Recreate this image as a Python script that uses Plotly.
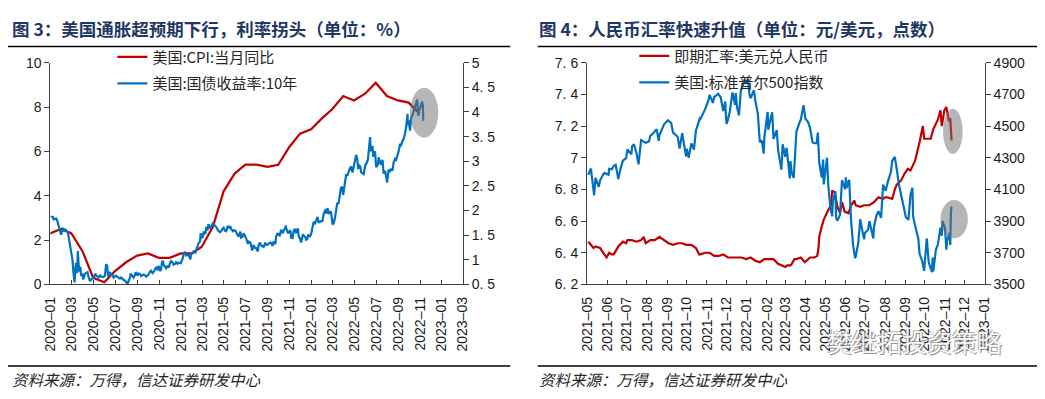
import plotly.graph_objects as go

# ---------------- data: left chart (US CPI YoY, US 10Y yield) ----------------
cpi_dates = ["2019-12-31","2020-01-31","2020-02-29","2020-03-31","2020-04-30","2020-05-31","2020-06-30",
             "2020-07-31","2020-08-31","2020-09-30","2020-10-31","2020-11-30","2020-12-31",
             "2021-01-31","2021-02-28","2021-03-31","2021-04-30","2021-05-31","2021-06-30",
             "2021-07-31","2021-08-31","2021-09-30","2021-10-31","2021-11-30","2021-12-31",
             "2022-01-31","2022-02-28","2022-03-31","2022-04-30","2022-05-31","2022-06-30",
             "2022-07-31","2022-08-31","2022-09-30","2022-10-31"]
cpi_vals = [2.3,2.5,2.3,1.5,0.3,0.1,0.6,1.0,1.3,1.4,1.2,1.2,1.4,
            1.4,1.7,2.6,4.2,5.0,5.4,5.4,5.3,5.4,6.2,6.8,7.0,
            7.5,7.9,8.5,8.3,8.6,9.1,8.5,8.3,8.2,7.7]

ust_raw = """2020-01-02 1.88,2020-01-08 1.87,2020-01-10 1.82,2020-01-17 1.84,2020-01-21 1.78,2020-01-24 1.68,
2020-01-27 1.61,2020-01-31 1.51,2020-02-05 1.65,2020-02-07 1.58,2020-02-12 1.63,2020-02-14 1.59,2020-02-19 1.56,
2020-02-21 1.46,2020-02-25 1.33,2020-02-28 1.13,2020-03-03 1.00,2020-03-06 0.71,2020-03-09 0.54,2020-03-11 0.82,
2020-03-13 0.94,2020-03-16 0.73,2020-03-18 1.18,2020-03-20 0.92,2020-03-23 0.76,2020-03-25 0.86,2020-03-27 0.68,
2020-03-31 0.70,2020-04-02 0.60,2020-04-07 0.72,2020-04-09 0.73,2020-04-14 0.75,2020-04-17 0.65,2020-04-21 0.57,
2020-04-24 0.60,2020-04-29 0.63,2020-05-01 0.64,2020-05-06 0.72,2020-05-08 0.68,2020-05-13 0.66,2020-05-15 0.64,
2020-05-20 0.68,2020-05-22 0.66,2020-05-29 0.65,2020-06-02 0.68,2020-06-05 0.91,2020-06-08 0.88,2020-06-11 0.66,
2020-06-12 0.71,2020-06-16 0.75,2020-06-19 0.70,2020-06-24 0.68,2020-06-26 0.64,2020-07-02 0.68,2020-07-08 0.66,
2020-07-10 0.64,2020-07-14 0.62,2020-07-17 0.64,2020-07-22 0.61,2020-07-24 0.59,2020-07-28 0.58,2020-07-31 0.55,
2020-08-04 0.51,2020-08-07 0.57,2020-08-11 0.64,2020-08-13 0.72,2020-08-14 0.71,2020-08-18 0.68,2020-08-21 0.64,
2020-08-25 0.69,2020-08-27 0.75,2020-08-28 0.74,2020-09-01 0.68,2020-09-04 0.72,2020-09-09 0.70,2020-09-11 0.67,
2020-09-16 0.69,2020-09-18 0.70,2020-09-23 0.68,2020-09-25 0.66,2020-09-30 0.69,2020-10-02 0.70,2020-10-06 0.76,
2020-10-09 0.78,2020-10-13 0.73,2020-10-16 0.75,2020-10-21 0.82,2020-10-23 0.84,2020-10-28 0.79,2020-10-30 0.88,
2020-11-04 0.77,2020-11-06 0.82,2020-11-09 0.96,2020-11-11 0.98,2020-11-13 0.90,2020-11-18 0.86,2020-11-20 0.83,
2020-11-24 0.88,2020-11-27 0.84,2020-12-01 0.93,2020-12-04 0.97,2020-12-09 0.94,2020-12-11 0.90,2020-12-16 0.92,
2020-12-18 0.95,2020-12-22 0.92,2020-12-24 0.94,2020-12-31 0.93,2021-01-06 1.04,2021-01-08 1.13,2021-01-12 1.15,
2021-01-15 1.09,2021-01-20 1.10,2021-01-22 1.10,2021-01-27 1.01,2021-01-29 1.11,2021-02-03 1.14,2021-02-05 1.17,
2021-02-10 1.15,2021-02-12 1.20,2021-02-16 1.30,2021-02-19 1.34,2021-02-23 1.37,2021-02-25 1.54,2021-02-26 1.44,
2021-03-03 1.47,2021-03-05 1.57,2021-03-10 1.52,2021-03-12 1.64,2021-03-16 1.62,2021-03-18 1.71,2021-03-19 1.72,
2021-03-23 1.63,2021-03-26 1.68,2021-03-30 1.73,2021-03-31 1.74,2021-04-05 1.70,2021-04-07 1.67,2021-04-09 1.67,
2021-04-13 1.62,2021-04-15 1.58,2021-04-16 1.59,2021-04-20 1.56,2021-04-23 1.58,2021-04-27 1.63,2021-04-30 1.65,
2021-05-04 1.59,2021-05-07 1.58,2021-05-12 1.69,2021-05-14 1.64,2021-05-19 1.68,2021-05-21 1.63,2021-05-26 1.58,
2021-05-28 1.60,2021-06-02 1.59,2021-06-04 1.56,2021-06-09 1.49,2021-06-11 1.47,2021-06-16 1.57,2021-06-18 1.45,
2021-06-22 1.47,2021-06-25 1.54,2021-06-30 1.47,2021-07-02 1.44,2021-07-07 1.32,2021-07-09 1.37,2021-07-14 1.35,
2021-07-16 1.30,2021-07-19 1.19,2021-07-23 1.30,2021-07-27 1.24,2021-07-30 1.24,2021-08-03 1.18,2021-08-04 1.17,
2021-08-06 1.30,2021-08-10 1.35,2021-08-13 1.29,2021-08-18 1.27,2021-08-20 1.26,2021-08-25 1.35,2021-08-27 1.31,
2021-09-01 1.31,2021-09-03 1.33,2021-09-08 1.35,2021-09-10 1.34,2021-09-14 1.28,2021-09-17 1.37,2021-09-22 1.32,
2021-09-24 1.47,2021-09-28 1.54,2021-09-30 1.52,2021-10-04 1.48,2021-10-08 1.61,2021-10-13 1.54,2021-10-15 1.59,
2021-10-20 1.65,2021-10-21 1.70,2021-10-22 1.65,2021-10-27 1.54,2021-10-29 1.56,2021-11-03 1.60,2021-11-05 1.45,
2021-11-09 1.44,2021-11-12 1.58,2021-11-16 1.63,2021-11-19 1.54,2021-11-24 1.64,2021-11-26 1.48,2021-11-30 1.43,
2021-12-03 1.35,2021-12-08 1.52,2021-12-10 1.49,2021-12-15 1.46,2021-12-17 1.41,2021-12-20 1.42,2021-12-23 1.50,
2021-12-28 1.48,2021-12-31 1.52,2022-01-04 1.66,2022-01-07 1.77,2022-01-11 1.74,2022-01-14 1.79,2022-01-18 1.87,
2022-01-21 1.75,2022-01-25 1.78,2022-01-28 1.78,2022-02-01 1.79,2022-02-04 1.93,2022-02-10 2.03,2022-02-11 1.94,
2022-02-15 2.05,2022-02-18 1.93,2022-02-23 1.99,2022-02-24 1.96,2022-02-25 1.97,2022-03-01 1.72,2022-03-04 1.74,
2022-03-08 1.86,2022-03-11 2.00,2022-03-14 2.14,2022-03-18 2.15,2022-03-22 2.38,2022-03-25 2.48,2022-03-28 2.46,
2022-03-31 2.32,2022-04-01 2.39,2022-04-05 2.55,2022-04-08 2.72,2022-04-12 2.72,2022-04-18 2.85,2022-04-20 2.84,
2022-04-22 2.90,2022-04-26 2.77,2022-04-29 2.89,2022-05-03 2.97,2022-05-06 3.13,2022-05-09 3.05,2022-05-12 2.84,
2022-05-13 2.93,2022-05-18 2.89,2022-05-20 2.78,2022-05-26 2.75,2022-05-27 2.74,2022-06-01 2.93,2022-06-03 2.94,
2022-06-08 3.03,2022-06-10 3.15,2022-06-14 3.49,2022-06-16 3.20,2022-06-17 3.25,2022-06-21 3.31,2022-06-23 3.09,
2022-06-24 3.13,2022-06-28 3.20,2022-07-01 2.88,2022-07-06 2.93,2022-07-08 3.08,2022-07-13 2.96,2022-07-15 2.93,
2022-07-19 3.03,2022-07-22 2.75,2022-07-26 2.81,2022-07-29 2.65,2022-08-01 2.57,2022-08-05 2.83,2022-08-09 2.80,
2022-08-12 2.85,2022-08-16 2.81,2022-08-19 2.98,2022-08-23 3.05,2022-08-26 3.03,2022-08-30 3.11,2022-09-02 3.20,
2022-09-06 3.35,2022-09-09 3.33,2022-09-13 3.42,2022-09-16 3.45,2022-09-20 3.57,2022-09-23 3.69,2022-09-27 3.96,
2022-09-28 3.73,2022-09-30 3.83,2022-10-04 3.62,2022-10-07 3.89,2022-10-11 3.94,2022-10-14 4.01,2022-10-19 4.13,
2022-10-21 4.21,2022-10-24 4.25,2022-10-27 3.92,2022-10-28 4.01,2022-11-02 4.10,2022-11-04 4.17,2022-11-07 4.21,
2022-11-09 4.12,2022-11-10 3.82"""
ust_dates = [p.split()[0] for p in ust_raw.replace("\n", "").split(",")]
ust_vals = [float(p.split()[1]) for p in ust_raw.replace("\n", "").split(",")]

# ---------------- data: right chart (USD/CNY spot, S&P 500) ----------------
cny_raw = """2021-05-03 6.47,2021-05-07 6.45,2021-05-11 6.43,2021-05-14 6.44,2021-05-21 6.43,2021-05-26 6.40,
2021-05-31 6.37,2021-06-04 6.40,2021-06-08 6.39,2021-06-11 6.39,2021-06-18 6.44,2021-06-25 6.47,2021-06-30 6.46,
2021-07-02 6.48,2021-07-09 6.48,2021-07-16 6.47,2021-07-23 6.48,2021-07-27 6.50,2021-07-30 6.46,2021-08-06 6.48,
2021-08-13 6.48,2021-08-20 6.50,2021-08-27 6.48,2021-09-03 6.46,2021-09-10 6.45,2021-09-17 6.46,2021-09-24 6.46,
2021-09-30 6.45,2021-10-08 6.45,2021-10-15 6.43,2021-10-20 6.39,2021-10-22 6.39,2021-10-29 6.40,2021-11-05 6.40,
2021-11-12 6.38,2021-11-19 6.38,2021-11-26 6.39,2021-12-03 6.37,2021-12-10 6.37,2021-12-17 6.37,2021-12-24 6.37,
2021-12-31 6.36,2022-01-07 6.37,2022-01-14 6.35,2022-01-21 6.34,2022-01-28 6.36,2022-02-07 6.36,2022-02-11 6.36,
2022-02-18 6.33,2022-02-25 6.32,2022-03-01 6.31,2022-03-04 6.32,2022-03-09 6.32,2022-03-11 6.33,2022-03-15 6.36,
2022-03-18 6.36,2022-03-25 6.37,2022-03-31 6.34,2022-04-08 6.37,2022-04-15 6.37,2022-04-19 6.38,2022-04-21 6.43,
2022-04-22 6.50,2022-04-25 6.55,2022-04-27 6.58,2022-04-29 6.61,2022-05-06 6.67,2022-05-10 6.70,2022-05-12 6.79,
2022-05-13 6.79,2022-05-16 6.78,2022-05-20 6.69,2022-05-24 6.65,2022-05-27 6.72,2022-05-31 6.66,2022-06-06 6.65,
2022-06-10 6.70,2022-06-15 6.73,2022-06-17 6.70,2022-06-24 6.69,2022-06-30 6.70,2022-07-05 6.70,2022-07-08 6.70,
2022-07-15 6.72,2022-07-22 6.75,2022-07-29 6.74,2022-08-01 6.75,2022-08-05 6.75,2022-08-12 6.74,2022-08-16 6.80,
2022-08-19 6.83,2022-08-24 6.85,2022-08-26 6.86,2022-08-31 6.90,2022-09-05 6.93,2022-09-09 6.92,2022-09-15 6.97,
2022-09-16 6.98,2022-09-23 7.10,2022-09-28 7.20,2022-09-30 7.12,2022-10-10 7.12,2022-10-14 7.18,2022-10-21 7.24,
2022-10-25 7.30,2022-10-27 7.20,2022-10-31 7.30,2022-11-03 7.32,2022-11-07 7.23,2022-11-09 7.25,2022-11-10 7.18,
2022-11-11 7.11"""
cny_dates = [p.split()[0] for p in cny_raw.replace("\n", "").split(",")]
cny_vals = [float(p.split()[1]) for p in cny_raw.replace("\n", "").split(",")]

spx_raw = """2021-05-03 4192,2021-05-07 4232,2021-05-12 4063,2021-05-14 4173,2021-05-19 4116,2021-05-21 4156,
2021-05-26 4196,2021-05-28 4204,2021-06-03 4192,2021-06-04 4230,2021-06-08 4227,2021-06-11 4247,2021-06-14 4255,
2021-06-18 4166,2021-06-21 4224,2021-06-25 4281,2021-06-30 4298,2021-07-02 4352,2021-07-08 4321,2021-07-09 4370,
2021-07-12 4385,2021-07-16 4327,2021-07-19 4258,2021-07-23 4412,2021-07-27 4402,2021-07-30 4395,2021-08-04 4403,
2021-08-06 4437,2021-08-12 4460,2021-08-13 4468,2021-08-16 4479,2021-08-19 4406,2021-08-20 4442,2021-08-24 4486,
2021-08-27 4509,2021-09-02 4537,2021-09-07 4520,2021-09-10 4459,2021-09-14 4443,2021-09-17 4433,2021-09-20 4358,
2021-09-24 4455,2021-09-28 4353,2021-09-30 4308,2021-10-01 4357,2021-10-04 4300,2021-10-08 4391,2021-10-12 4351,
2021-10-15 4471,2021-10-21 4549,2021-10-22 4545,2021-10-26 4575,2021-10-29 4605,2021-11-03 4660,2021-11-05 4697,
2021-11-10 4646,2021-11-12 4683,2021-11-18 4704,2021-11-19 4698,2021-11-22 4682,2021-11-26 4595,2021-11-29 4655,
2021-11-30 4567,2021-12-01 4513,2021-12-03 4538,2021-12-06 4592,2021-12-10 4712,2021-12-14 4634,2021-12-15 4709,
2021-12-17 4620,2021-12-20 4568,2021-12-23 4726,2021-12-29 4793,2021-12-31 4766,2022-01-03 4797,2022-01-05 4701,
2022-01-07 4677,2022-01-12 4726,2022-01-14 4663,2022-01-18 4577,2022-01-21 4398,2022-01-24 4410,2022-01-27 4326,
2022-01-28 4432,2022-02-02 4589,2022-02-03 4477,2022-02-04 4500,2022-02-09 4587,2022-02-11 4419,2022-02-16 4475,
2022-02-18 4349,2022-02-23 4225,2022-02-24 4288,2022-02-25 4385,2022-03-01 4306,2022-03-03 4363,2022-03-04 4329,
2022-03-08 4170,2022-03-09 4278,2022-03-11 4204,2022-03-14 4173,2022-03-16 4357,2022-03-18 4463,2022-03-22 4512,
2022-03-25 4543,2022-03-29 4632,2022-04-01 4546,2022-04-05 4525,2022-04-08 4488,2022-04-12 4397,2022-04-14 4393,
2022-04-18 4391,2022-04-20 4459,2022-04-22 4272,2022-04-26 4175,2022-04-28 4288,2022-04-29 4132,2022-05-04 4300,
2022-05-06 4123,2022-05-09 3991,2022-05-12 3930,2022-05-13 4024,2022-05-17 4089,2022-05-18 3923,2022-05-20 3901,
2022-05-24 3941,2022-05-27 4158,2022-06-01 4101,2022-06-02 4177,2022-06-03 4109,2022-06-07 4161,2022-06-10 3901,
2022-06-13 3750,2022-06-16 3667,2022-06-17 3675,2022-06-21 3765,2022-06-24 3912,2022-06-28 3821,2022-06-30 3785,
2022-07-01 3825,2022-07-06 3845,2022-07-08 3899,2022-07-14 3790,2022-07-15 3863,2022-07-19 3937,2022-07-22 3962,
2022-07-26 3921,2022-07-29 4130,2022-08-02 4091,2022-08-05 4145,2022-08-10 4210,2022-08-12 4280,2022-08-16 4305,
2022-08-19 4228,2022-08-22 4138,2022-08-26 4058,2022-08-30 3986,2022-09-02 3924,2022-09-06 3909,2022-09-09 4067,
2022-09-12 4110,2022-09-13 3932,2022-09-16 3873,2022-09-21 3790,2022-09-23 3693,2022-09-27 3647,2022-09-30 3586,
2022-10-04 3791,2022-10-07 3640,2022-10-12 3577,2022-10-13 3670,2022-10-14 3583,2022-10-18 3720,2022-10-21 3752,
2022-10-25 3859,2022-10-27 3807,2022-10-28 3901,2022-11-01 3856,2022-11-03 3720,2022-11-04 3771,2022-11-08 3828,
2022-11-09 3749,2022-11-10 3956,2022-11-11 3993"""
spx_dates = [p.split()[0] for p in spx_raw.replace("\n", "").split(",")]
spx_vals = [float(p.split()[1]) for p in spx_raw.replace("\n", "").split(",")]

# ---------------- tick labels ----------------
left_x_tickvals = ["2020-01-01","2020-03-01","2020-05-01","2020-07-01","2020-09-01","2020-11-01",
                   "2021-01-01","2021-03-01","2021-05-01","2021-07-01","2021-09-01","2021-11-01",
                   "2022-01-01","2022-03-01","2022-05-01","2022-07-01","2022-09-01","2022-11-01",
                   "2023-01-01","2023-03-01"]
left_x_ticktext = [d[:4] + "–" + d[5:7] for d in left_x_tickvals]
left_y1_ticks = [0, 2, 4, 6, 8, 10]
left_y2_ticks = [0.5, 1, 1.5, 2, 2.5, 3, 3.5, 4, 4.5, 5]
left_y2_text = ["0. 5", "1", "1. 5", "2", "2. 5", "3", "3. 5", "4", "4. 5", "5"]

right_x_tickvals = ["2021-05-01","2021-06-01","2021-07-01","2021-08-01","2021-09-01","2021-10-01",
                    "2021-11-01","2021-12-01","2022-01-01","2022-02-01","2022-03-01","2022-04-01",
                    "2022-05-01","2022-06-01","2022-07-01","2022-08-01","2022-09-01","2022-10-01",
                    "2022-11-01","2022-12-01","2023-01-01"]
right_x_ticktext = [d[:4] + "–" + d[5:7] for d in right_x_tickvals]
right_y1_ticks = [6.2, 6.4, 6.6, 6.8, 7.0, 7.2, 7.4, 7.6]
right_y1_text = ["6. 2", "6. 4", "6. 6", "6. 8", "7", "7. 2", "7. 4", "7. 6"]
right_y2_ticks = [3500, 3700, 3900, 4100, 4300, 4500, 4700, 4900]

# highlight ellipses (data coordinates)
hl_left = dict(x0="2022-10-04", x1="2022-12-22", y0=6.62, y1=8.87)
hl_right_top = dict(x0="2022-10-29", x1="2022-11-28", y0=7.024, y1=7.309)
hl_right_bot = dict(x0="2022-10-25", x1="2022-12-06", y0=6.491, y1=6.733)

# ---------------- styling ----------------
W, H = 1045, 399
RED = "#C00000"
BLUE = "#0070C0"
AX = "#404040"
TICKFONT = dict(family="Liberation Sans, Arial, sans-serif", size=14, color="#1a1a1a")
XTICKFONT = dict(family="Liberation Sans, Arial, sans-serif", size=14, color="#1a1a1a")
CJK = "Noto Sans CJK SC, sans-serif"

def px_x(p):
    return p / W

def px_y(p):
    return 1 - p / H

L_DOM = [px_x(43), px_x(462)]
R_DOM = [px_x(588), px_x(992)]
Y_DOM = [px_y(288), px_y(57)]

fig = go.Figure()
fig.add_trace(go.Scatter(x=cpi_dates, y=cpi_vals, mode="lines", name="美国:CPI:当月同比",
                         line=dict(color=RED, width=2.2), xaxis="x", yaxis="y", legend="legend"))
fig.add_trace(go.Scatter(x=ust_dates, y=ust_vals, mode="lines", name="美国:国债收益率:10年",
                         line=dict(color=BLUE, width=2.2), xaxis="x", yaxis="y2", legend="legend"))
fig.add_trace(go.Scatter(x=cny_dates, y=cny_vals, mode="lines", name="即期汇率:美元兑人民币",
                         line=dict(color=RED, width=2.2), xaxis="x2", yaxis="y3", legend="legend2"))
fig.add_trace(go.Scatter(x=spx_dates, y=spx_vals, mode="lines", name="美国:标准普尔500指数",
                         line=dict(color=BLUE, width=2.2), xaxis="x2", yaxis="y4", legend="legend2"))

xcommon = dict(type="date", showgrid=False, zeroline=False, showline=True, linecolor=AX, linewidth=1,
               ticks="inside", ticklen=4, tickcolor=AX, tickangle=-90, tickfont=XTICKFONT,
               ticklabelstandoff=6)
ycommon = dict(showgrid=False, zeroline=False, showline=True, linecolor=AX, linewidth=1,
               ticks="outside", ticklen=5, tickcolor=AX, tickfont=TICKFONT)

fig.update_layout(
    width=W, height=H, autosize=False,
    margin=dict(l=0, r=0, t=0, b=0),
    paper_bgcolor="white", plot_bgcolor="white",
    showlegend=True,
    xaxis=dict(domain=L_DOM, anchor="y", range=["2020-01-01", "2023-03-01"],
               tickmode="array", tickvals=left_x_tickvals, ticktext=left_x_ticktext, **xcommon),
    yaxis=dict(domain=Y_DOM, anchor="x", range=[0, 10], tickmode="array", tickvals=left_y1_ticks,
               side="left", **ycommon),
    yaxis2=dict(overlaying="y", anchor="x", side="right", range=[0.5, 5], tickmode="array",
                tickvals=left_y2_ticks, ticktext=left_y2_text, **ycommon),
    xaxis2=dict(domain=R_DOM, anchor="y3", range=["2021-05-01", "2023-01-01"],
                tickmode="array", tickvals=right_x_tickvals, ticktext=right_x_ticktext, **xcommon),
    yaxis3=dict(domain=Y_DOM, anchor="x2", range=[6.2, 7.6], tickmode="array", tickvals=right_y1_ticks,
                ticktext=right_y1_text, side="left", **ycommon),
    yaxis4=dict(overlaying="y3", anchor="x2", side="right", range=[3500, 4900], tickmode="array",
                tickvals=right_y2_ticks, **ycommon),
    legend=dict(x=px_x(106), y=px_y(34), xanchor="left", yanchor="top", bgcolor="rgba(0,0,0,0)",
                font=dict(family=CJK, size=15, color="#262626"), tracegroupgap=4, itemwidth=30),
    legend2=dict(x=px_x(636), y=px_y(33), xanchor="left", yanchor="top", bgcolor="rgba(0,0,0,0)",
                 font=dict(family=CJK, size=15, color="#262626"), tracegroupgap=4, itemwidth=30),
)
# separate legend groups so that tracegroupgap spaces the rows
for i, tr in enumerate(fig.data):
    tr.legendgroup = f"g{i}"

# highlight ellipses, semi-transparent, drawn over lines
ell_style = dict(type="circle", fillcolor="rgb(110,110,110)", opacity=0.5, line=dict(width=0), layer="above")
fig.add_shape(xref="x", yref="y", **hl_left, **ell_style)
fig.add_shape(xref="x2", yref="y3", **hl_right_top, **ell_style)
fig.add_shape(xref="x2", yref="y3", **hl_right_bot, **ell_style)

# title rules and source rules
for x0, x1 in [(0, 510), (538, W)]:
    fig.add_shape(type="line", xref="paper", yref="paper", x0=px_x(x0), x1=px_x(x1),
                  y0=px_y(40), y1=px_y(40), line=dict(color="black", width=1.5))
    fig.add_shape(type="line", xref="paper", yref="paper", x0=px_x(x0), x1=px_x(x1),
                  y0=px_y(373), y1=px_y(373), line=dict(color="black", width=1.5))

titles = [("图 3：美国通胀超预期下行，利率拐头（单位：%）", 2),
          ("图 4：人民币汇率快速升值（单位：元/美元，点数）", 537)]
for txt, x in titles:
    fig.add_annotation(text=f"<b>{txt}</b>", xref="paper", yref="paper", x=px_x(x), y=px_y(21),
                       xanchor="left", yanchor="middle", showarrow=False,
                       font=dict(family=CJK, size=17.5, color="#1f3864"))

for x in (2, 537):
    fig.add_annotation(text="<i>资料来源：万得，信达证券研发中心</i>", xref="paper", yref="paper",
                       x=px_x(x), y=px_y(386), xanchor="left", yanchor="middle", showarrow=False,
                       font=dict(family=CJK, size=15.5, color="#262626"))

# watermark (outlined light text)
for dx, dy, col in [(1, 1, "rgba(120,120,120,0.8)"), (-1, -1, "rgba(120,120,120,0.6)"), (0, 0, "rgba(255,255,255,0.95)")]:
    fig.add_annotation(text="樊继拓投资策略", xref="paper", yref="paper", x=px_x(921 + dx), y=px_y(347 + dy),
                       xanchor="center", yanchor="middle", showarrow=False,
                       font=dict(family=CJK, size=25, color=col))

fig.write_html("out.html", config={"displayModeBar": False, "staticPlot": True},
               post_script="document.body.style.margin='0';document.body.style.overflow='hidden';")
